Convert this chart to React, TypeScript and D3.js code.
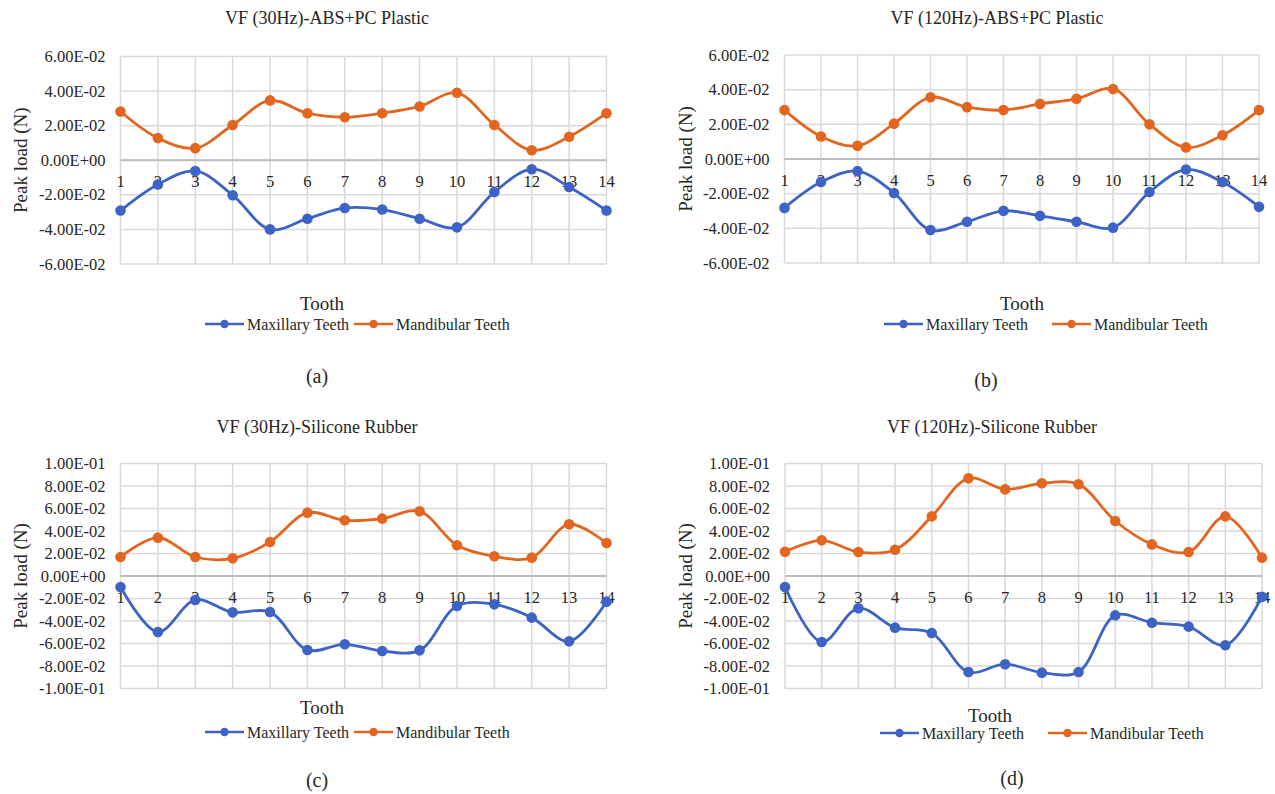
import { useEffect } from "react"
import * as d3 from "d3"

// tooth numbers along the x axis
const teeth = [1, 2, 3, 4, 5, 6, 7, 8, 9, 10, 11, 12, 13, 14]

// (a) VF 30Hz ABS+PC
const maxA = [-0.0291, -0.014, -0.0062, -0.0202, -0.04, -0.0338, -0.0276, -0.0285, -0.0338, -0.0388, -0.0184, -0.0052, -0.0155, -0.0291]
const mandA = [0.0282, 0.0128, 0.007, 0.0204, 0.0346, 0.0272, 0.0249, 0.0272, 0.0311, 0.039, 0.0204, 0.0058, 0.0136, 0.0272]
// (b) VF 120Hz ABS+PC
const maxB = [-0.0282, -0.0133, -0.007, -0.0196, -0.041, -0.0362, -0.0299, -0.0328, -0.0362, -0.0396, -0.019, -0.0061, -0.0133, -0.0276]
const mandB = [0.0282, 0.013, 0.0076, 0.0204, 0.0356, 0.0299, 0.0282, 0.0318, 0.0347, 0.0404, 0.02, 0.0067, 0.0137, 0.0282]
// (c) VF 30Hz silicone
const maxC = [-0.0098, -0.0498, -0.0213, -0.0323, -0.032, -0.0658, -0.0607, -0.0667, -0.0661, -0.0267, -0.0252, -0.037, -0.0581, -0.0228]
const mandC = [0.0169, 0.0341, 0.0169, 0.0157, 0.0302, 0.0563, 0.0495, 0.051, 0.0575, 0.0273, 0.0175, 0.0163, 0.0459, 0.0293]
// (d) VF 120Hz silicone
const maxD = [-0.0098, -0.0587, -0.0287, -0.0459, -0.0507, -0.0853, -0.0784, -0.0859, -0.0853, -0.035, -0.0415, -0.045, -0.0616, -0.0184]
const mandD = [0.0216, 0.0317, 0.0213, 0.0234, 0.053, 0.0868, 0.077, 0.0824, 0.0815, 0.0489, 0.0281, 0.0213, 0.053, 0.0163]

const ticksPlastic = [-0.06, -0.04, -0.02, 0, 0.02, 0.04, 0.06]
const ticksRubber = [-0.1, -0.08, -0.06, -0.04, -0.02, 0, 0.02, 0.04, 0.06, 0.08, 0.1]

const seriesNames = ["Maxillary Teeth", "Mandibular Teeth"]
const BLUE = "#3d63c4"
const ORANGE = "#e2661f"
const TEXT = "#262626"
const FONT = "'Liberation Serif', 'Times New Roman', serif"

function fmt(v: number) {
  const s = (Math.abs(v) < 1e-12 ? 0 : v).toExponential(2).toUpperCase()
  return s.replace(/E([+-])(\d)$/, "E$10$2")
}

type PanelProps = {
  title: string
  tag: string
  maxVals: number[]
  mandVals: number[]
  ticks: number[]
  box: { left: number; right: number; top: number; bottom: number }
  titlePos: [number, number]
  yTitleX: number
  toothPos: [number, number]
  legend: { y: number; x1: number; x2: number }
  tagPos: [number, number]
}

function Panel(p: PanelProps) {
  const x = d3.scaleLinear().domain([1, 14]).range([p.box.left, p.box.right])
  const y = d3
    .scaleLinear()
    .domain([p.ticks[0], p.ticks[p.ticks.length - 1]])
    .range([p.box.bottom, p.box.top])
  const line = d3
    .line<number>()
    .x((_, i) => x(teeth[i]))
    .y((d) => y(d))
    .curve(d3.curveCatmullRom.alpha(0.5))
  const y0 = y(0)
  const midY = (p.box.top + p.box.bottom) / 2
  const series = [
    { vals: p.maxVals, color: BLUE },
    { vals: p.mandVals, color: ORANGE },
  ]
  const legendItems = [
    { x: p.legend.x1, color: BLUE, name: seriesNames[0] },
    { x: p.legend.x2, color: ORANGE, name: seriesNames[1] },
  ]

  return (
    <g fontFamily={FONT} fill={TEXT}>
      <text x={p.titlePos[0]} y={p.titlePos[1]} textAnchor="middle" dominantBaseline="central" fontSize={18}>
        {p.title}
      </text>

      {/* grid */}
      {p.ticks.map((t) => (
        <line key={"h" + t} x1={p.box.left} x2={p.box.right} y1={y(t)} y2={y(t)} stroke="#d9d9d9" strokeWidth={1.5} />
      ))}
      {teeth.map((t) => (
        <line key={"v" + t} x1={x(t)} x2={x(t)} y1={p.box.top} y2={p.box.bottom} stroke="#d9d9d9" strokeWidth={1.5} />
      ))}
      <line x1={p.box.left} x2={p.box.right} y1={y0} y2={y0} stroke="#bdbdbd" strokeWidth={1.8} />

      {/* y ticks */}
      {p.ticks.map((t) => (
        <text key={"yt" + t} x={p.box.left - 15} y={y(t)} textAnchor="end" dominantBaseline="central" fontSize={16.5}>
          {fmt(t)}
        </text>
      ))}
      {/* x ticks at zero line */}
      {teeth.map((t) => (
        <text key={"xt" + t} x={x(t)} y={y0 + 21} textAnchor="middle" dominantBaseline="central" fontSize={16.5}>
          {t}
        </text>
      ))}

      <text
        transform={`translate(${p.yTitleX},${midY}) rotate(-90)`}
        textAnchor="middle"
        dominantBaseline="central"
        fontSize={19}
      >
        Peak load (N)
      </text>
      <text x={p.toothPos[0]} y={p.toothPos[1]} textAnchor="middle" dominantBaseline="central" fontSize={19}>
        Tooth
      </text>

      {series.map((s, si) => (
        <g key={"s" + si}>
          <path d={line(s.vals) || ""} fill="none" stroke={s.color} strokeWidth={2.8} />
          {s.vals.map((v, i) => (
            <circle key={i} cx={x(teeth[i])} cy={y(v)} r={5.3} fill={s.color} />
          ))}
        </g>
      ))}

      {/* legend */}
      {legendItems.map((l) => (
        <g key={l.name}>
          <line x1={l.x} x2={l.x + 39} y1={p.legend.y} y2={p.legend.y} stroke={l.color} strokeWidth={2.6} />
          <circle cx={l.x + 19.5} cy={p.legend.y} r={4.2} fill={l.color} />
          <text x={l.x + 42} y={p.legend.y} dominantBaseline="central" fontSize={16}>
            {l.name}
          </text>
        </g>
      ))}

      <text x={p.tagPos[0]} y={p.tagPos[1]} textAnchor="middle" dominantBaseline="central" fontSize={20}>
        {p.tag}
      </text>
    </g>
  )
}

export default function App() {
  useEffect(() => {
    document.body.style.margin = "0"
  }, [])

  return (
    <svg width={1275} height={794} viewBox="0 0 1275 794" style={{ display: "block", background: "#fff" }}>
      <Panel
        title="VF (30Hz)-ABS+PC Plastic"
        tag="(a)"
        maxVals={maxA}
        mandVals={mandA}
        ticks={ticksPlastic}
        box={{ left: 120.5, right: 606.5, top: 56.5, bottom: 264 }}
        titlePos={[327, 18]}
        yTitleX={20}
        toothPos={[322, 303]}
        legend={{ y: 324, x1: 205, x2: 354 }}
        tagPos={[317, 376]}
      />
      <Panel
        title="VF (120Hz)-ABS+PC Plastic"
        tag="(b)"
        maxVals={maxB}
        mandVals={mandB}
        ticks={ticksPlastic}
        box={{ left: 784.5, right: 1259, top: 55, bottom: 263 }}
        titlePos={[997, 18]}
        yTitleX={685}
        toothPos={[1022, 303]}
        legend={{ y: 324, x1: 884, x2: 1052 }}
        tagPos={[986, 380]}
      />
      <Panel
        title="VF (30Hz)-Silicone Rubber"
        tag="(c)"
        maxVals={maxC}
        mandVals={mandC}
        ticks={ticksRubber}
        box={{ left: 120.5, right: 606.5, top: 463.5, bottom: 688.5 }}
        titlePos={[317, 427]}
        yTitleX={20}
        toothPos={[322, 707]}
        legend={{ y: 732, x1: 205, x2: 354 }}
        tagPos={[317, 780]}
      />
      <Panel
        title="VF (120Hz)-Silicone Rubber"
        tag="(d)"
        maxVals={maxD}
        mandVals={mandD}
        ticks={ticksRubber}
        box={{ left: 785, right: 1262, top: 463.5, bottom: 688.5 }}
        titlePos={[992, 427]}
        yTitleX={685}
        toothPos={[990, 715]}
        legend={{ y: 733, x1: 880, x2: 1048 }}
        tagPos={[1012, 778]}
      />
    </svg>
  )
}
